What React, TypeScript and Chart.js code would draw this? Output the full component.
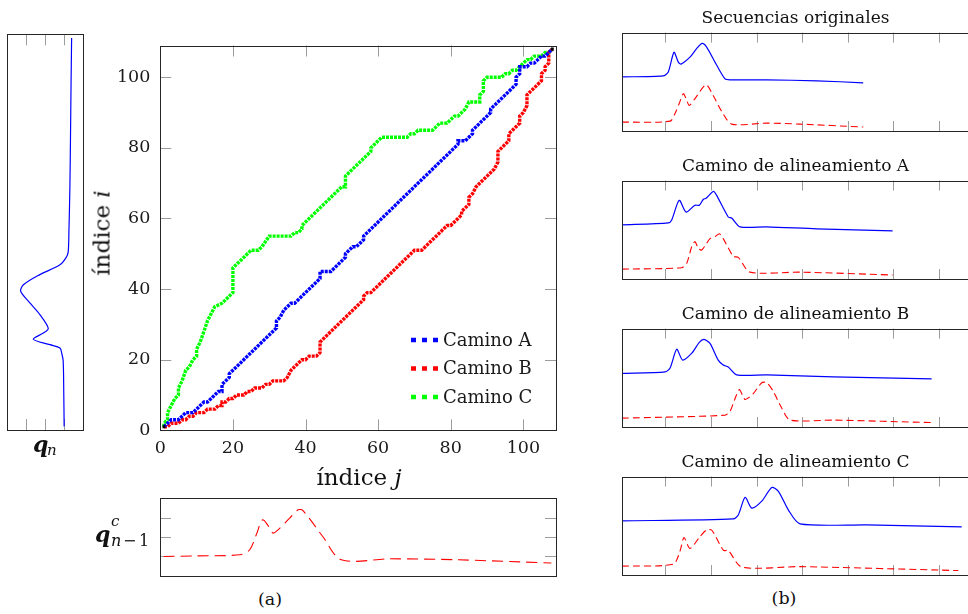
import React, { useEffect, useRef } from "react";
import { Chart, registerables } from "chart.js";
Chart.register(...registerables);

// ---------------- data ----------------
// warping paths (j = column index, i = row index), vertices of the step paths
const pathA: [number, number][] = [
  [1, 1], [2, 2], [3, 3], [5, 3], [6, 4], [7, 5], [9, 5], [10, 6], [11, 7], [12, 8], [13, 8],
  [16, 11], [17, 11], [17, 13], [18, 14], [19, 15], [19, 16], [20, 17], [31, 28], [32, 29],
  [32, 31], [33, 32], [34, 34], [35, 35], [36, 36], [37, 36], [38, 37], [44, 43], [44, 45],
  [45, 45], [47, 45], [50, 48], [51, 49], [51, 50], [52, 51], [53, 52], [54, 52], [55, 53],
  [56, 54], [56, 55], [57, 56], [82, 81], [82, 82], [84, 82], [85, 83], [86, 84], [86, 85],
  [90, 89], [91, 90], [91, 91], [97, 97], [98, 98], [98, 100], [99, 101], [99, 103],
  [101, 103], [102, 104], [103, 104], [104, 105], [105, 106], [106, 106], [107, 107], [108, 108],
];
const pathB: [number, number][] = [
  [1, 1], [2, 1], [3, 2], [5, 2], [6, 3], [7, 3], [8, 4], [9, 4], [10, 5], [12, 5], [13, 6],
  [15, 6], [16, 7], [17, 7], [17, 8], [18, 8], [19, 9], [20, 9], [21, 10], [23, 10], [24, 11],
  [25, 11], [26, 12], [28, 12], [29, 13], [30, 13], [31, 14], [34, 14], [35, 15], [36, 17],
  [37, 18], [38, 19], [39, 20], [40, 20], [41, 21], [43, 21], [44, 22], [44, 25], [45, 26],
  [56, 37], [56, 38], [57, 39], [58, 39], [59, 40], [69, 50], [70, 51], [72, 51], [73, 52],
  [79, 58], [80, 58], [82, 60], [83, 61], [83, 62], [84, 63], [85, 64], [85, 66], [86, 67],
  [87, 69], [88, 70], [90, 72], [91, 73], [92, 74], [93, 76], [93, 79], [94, 80], [95, 81],
  [96, 82], [96, 84], [97, 85], [98, 86], [99, 87], [99, 89], [100, 90], [101, 92], [101, 95],
  [102, 96], [103, 97], [104, 98], [105, 99], [105, 101], [106, 102], [106, 103], [107, 104],
  [107, 107], [108, 108],
];
const pathC: [number, number][] = [
  [1, 1], [1, 2], [2, 3], [2, 5], [3, 7], [4, 9], [5, 10], [5, 12], [6, 14], [7, 17], [8, 18],
  [9, 20], [10, 21], [10, 23], [11, 25], [12, 28], [13, 31], [14, 33], [15, 35], [17, 36],
  [18, 37], [19, 38], [20, 39], [20, 46], [21, 47], [24, 50], [25, 51], [27, 51], [28, 52],
  [30, 55], [36, 55], [37, 56], [38, 56], [39, 57], [39, 58], [40, 59], [50, 69], [51, 69],
  [51, 72], [52, 73], [53, 74], [57, 78], [58, 79], [58, 80], [60, 82], [61, 83], [68, 83],
  [69, 84], [70, 84], [71, 85], [75, 85], [77, 87], [79, 87], [81, 89], [82, 89], [84, 91],
  [85, 93], [88, 93], [88, 95], [89, 96], [89, 99], [90, 100], [94, 100], [95, 101], [96, 101],
  [97, 102], [98, 102], [99, 103], [100, 104], [101, 105], [102, 105], [103, 106], [105, 106],
  [106, 107], [107, 107], [108, 108],
];
const pathEnds: [number, number][] = [[1, 1], [108, 108]];
const pathLabels = ["Camino A", "Camino B", "Camino C"];
const mainTicks = [0, 20, 40, 60, 80, 100];

// q_n along i (i, value) and q^c_{n-1} along j (j, value)
const qn: [number, number][] = [
  [1, 1.0], [10, 1.02], [19, 1.05], [21, 1.12], [22.6, 1.22], [23.5, 1.74], [25, 2.61],
  [26.7, 2.09], [28, 1.83], [31.8, 2.27], [35, 2.79], [38.2, 3.27], [40, 3.13], [42.8, 2.27],
  [45.5, 1.22], [47.5, 0.9], [49, 0.79], [55, 0.75], [67, 0.7], [80, 0.67], [95, 0.64], [108, 0.61],
];
const qcPrev: [number, number][] = [
  [1, 1.0], [10, 1.03], [22, 1.09], [24.7, 1.35], [26.5, 2.13], [28.2, 2.91], [29.6, 2.65],
  [31.1, 2.22], [32.5, 2.39], [35.7, 3.0], [38, 3.43], [39.3, 3.4], [44.8, 2.04], [49.9, 0.83],
  [63.2, 0.88], [81.5, 0.83], [107.7, 0.66],
];
const valueTicks = [1, 2, 3];

// right-hand panels (sample index, normalised value)
const panelTitles = [
  "Secuencias originales",
  "Camino de alineamiento A",
  "Camino de alineamiento B",
  "Camino de alineamiento C",
];
const seqTicks = [20, 40, 60, 80, 100, 120, 140];
const origBlue: [number, number][] = [
  [1, 0.55], [19, 0.56], [21.3, 0.6], [23.8, 0.8], [25.7, 0.7], [26.9, 0.68], [30.8, 0.75],
  [33.8, 0.84], [36.2, 0.89], [38.2, 0.85], [42.5, 0.67], [46.2, 0.53], [48.4, 0.52],
  [64.5, 0.52], [86.4, 0.51], [106.8, 0.49],
];
const origRed: [number, number][] = [
  [1, 0.09], [22.1, 0.1], [24.3, 0.18], [26.1, 0.28], [27.9, 0.38], [29.1, 0.33], [30.5, 0.26],
  [33, 0.33], [37.9, 0.47], [41, 0.36], [44.7, 0.2], [49.1, 0.07], [64.5, 0.08], [79.1, 0.07],
  [106.8, 0.04],
];
const aBlue: [number, number][] = [
  [1, 0.55], [21.3, 0.57], [22.8, 0.6], [26.1, 0.8], [29.1, 0.68], [33, 0.75], [34.9, 0.75],
  [36.7, 0.81], [37.9, 0.82], [41.1, 0.89], [42.5, 0.85], [47.6, 0.63], [49.1, 0.62],
  [52.8, 0.53], [64.5, 0.53], [86.4, 0.51], [119.7, 0.49],
];
const aRed: [number, number][] = [
  [1, 0.1], [27.2, 0.115], [29.4, 0.16], [31.6, 0.33], [33, 0.38], [34.5, 0.31], [36, 0.295],
  [39.6, 0.41], [41.8, 0.43], [43.7, 0.46], [45.4, 0.41], [49.8, 0.23], [52, 0.22], [57.1, 0.07],
  [79.1, 0.07], [119.7, 0.04],
];
const bBlue: [number, number][] = [
  [1, 0.545], [19.9, 0.56], [22.1, 0.6], [25, 0.79], [27.6, 0.68], [31.6, 0.75], [34.9, 0.86],
  [37, 0.89], [39.6, 0.85], [43.2, 0.68], [45.4, 0.63], [47.6, 0.61], [51.3, 0.53], [64.5, 0.53],
  [93.7, 0.51], [136.8, 0.49],
];
const bRed: [number, number][] = [
  [1, 0.09], [46.2, 0.12], [48.4, 0.16], [50.6, 0.29], [52.5, 0.38], [55, 0.28], [58.6, 0.34],
  [62.3, 0.45], [64.5, 0.45], [67.4, 0.36], [71.1, 0.19], [74.7, 0.07], [93.7, 0.07],
  [136.8, 0.045],
];
const cBlue: [number, number][] = [
  [1, 0.55], [49.8, 0.57], [52, 0.61], [55, 0.79], [57.9, 0.68], [62.3, 0.75], [66.7, 0.89],
  [69.6, 0.85], [74, 0.66], [79.1, 0.52], [108.3, 0.51], [150, 0.49],
];
const cRed: [number, number][] = [
  [1, 0.09], [23.5, 0.11], [26.4, 0.24], [28.2, 0.38], [30.8, 0.27], [35.2, 0.39], [38.2, 0.46],
  [40.4, 0.455], [45.5, 0.25], [47.6, 0.25], [53.5, 0.08], [79.1, 0.085], [148.5, 0.045],
];

// ---------------- helpers ----------------
const SERIF = '"DejaVu Serif", "Liberation Serif", serif';
Chart.defaults.font.family = SERIF;
Chart.defaults.color = "#1a1a1a";

const BLUE = "#0000ff";
const RED = "#ff0000";
const GREEN = "#00ff00";
const FRAME = "#262626";
const TICK = "#9c9c9c";

const pts = (arr: [number, number][]) => arr.map(([x, y]) => ({ x, y }));
const ptsSwap = (arr: [number, number][]) => arr.map(([i, v]) => ({ x: v, y: i }));

function framePlugin(xTicks: number[], yTicks: number[], len: number) {
  return {
    id: "frameTicks",
    beforeDatasetsDraw(chart: any) {
      const { ctx, chartArea: a, scales } = chart;
      ctx.save();
      ctx.lineWidth = 1;
      ctx.strokeStyle = TICK;
      ctx.setLineDash([]);
      ctx.beginPath();
      xTicks.forEach((v) => {
        const x = Math.round(scales.x.getPixelForValue(v)) + 0.5;
        if (x < a.left + 2 || x > a.right - 2) return;
        ctx.moveTo(x, a.top);
        ctx.lineTo(x, a.top + len);
        ctx.moveTo(x, a.bottom);
        ctx.lineTo(x, a.bottom - len);
      });
      yTicks.forEach((v) => {
        const y = Math.round(scales.y.getPixelForValue(v)) + 0.5;
        if (y < a.top + 2 || y > a.bottom - 2) return;
        ctx.moveTo(a.left, y);
        ctx.lineTo(a.left + len, y);
        ctx.moveTo(a.right, y);
        ctx.lineTo(a.right - len, y);
      });
      ctx.stroke();
      ctx.restore();
    },
    afterDatasetsDraw(chart: any) {
      const { ctx, chartArea: a } = chart;
      ctx.save();
      ctx.lineWidth = 1;
      ctx.strokeStyle = FRAME;
      ctx.setLineDash([]);
      const l = Math.round(a.left) + 0.5;
      const t = Math.round(a.top) + 0.5;
      ctx.strokeRect(l, t, Math.round(a.right) - Math.round(a.left), Math.round(a.bottom) - Math.round(a.top));
      ctx.restore();
    },
  };
}

const pathLegend = {
  id: "pathLegend",
  afterDraw(chart: any) {
    const { ctx, chartArea: a } = chart;
    ctx.save();
    ctx.font = `18px ${SERIF}`;
    ctx.textBaseline = "middle";
    ctx.textAlign = "left";
    let row = 0;
    chart.data.datasets.forEach((ds: any) => {
      if (!pathLabels.includes(ds.label)) return;
      const y = a.bottom - 90.3 + row * 28.5;
      ctx.strokeStyle = ds.borderColor;
      ctx.lineWidth = 4.5;
      ctx.lineCap = "butt";
      ctx.setLineDash([5, 6]);
      ctx.beginPath();
      ctx.moveTo(a.right - 145, y);
      ctx.lineTo(a.right - 118, y);
      ctx.stroke();
      ctx.setLineDash([]);
      ctx.fillStyle = "#1a1a1a";
      ctx.fillText(ds.label, a.right - 113, y + 1);
      row++;
    });
    ctx.restore();
  },
};

function ChartBox(props: { left: number; top: number; width: number; height: number; make: () => any }) {
  const ref = useRef<HTMLCanvasElement>(null);
  useEffect(() => {
    const chart = new Chart(ref.current as HTMLCanvasElement, props.make());
    return () => chart.destroy();
  }, []);
  return (
    <canvas
      ref={ref}
      width={props.width}
      height={props.height}
      style={{ position: "absolute", left: props.left, top: props.top, width: props.width, height: props.height }}
    />
  );
}

function Txt(props: {
  x: number;
  y: number;
  size: number;
  children: React.ReactNode;
  center?: boolean;
  style?: React.CSSProperties;
}) {
  return (
    <div
      style={{
        position: "absolute",
        left: props.x,
        top: props.y - 0.846 * props.size,
        fontSize: props.size,
        lineHeight: `${props.size}px`,
        fontFamily: SERIF,
        color: "#111",
        whiteSpace: "nowrap",
        transform: props.center ? "translateX(-50%)" : undefined,
        ...props.style,
      }}
    >
      {props.children}
    </div>
  );
}

const noScale = (min: number, max: number, reverse = false) => ({
  type: "linear",
  min,
  max,
  reverse,
  display: false,
});

const baseOpts = (padding: any) => ({
  responsive: false,
  animation: false,
  events: [],
  layout: { padding },
  plugins: { legend: { display: false }, tooltip: { enabled: false } },
});

function makeMain() {
  const pathDs = (label: string, data: [number, number][], color: string) => ({
    label,
    data: pts(data),
    borderColor: color,
    backgroundColor: color,
    borderWidth: 3.4,
    borderDash: [3, 1],
    borderCapStyle: "butt",
    borderJoinStyle: "miter",
    showLine: true,
    pointRadius: 0,
    tension: 0,
  });
  const tickFont = { size: 17.5, family: SERIF };
  return {
    type: "scatter",
    data: {
      datasets: [
        { label: "", data: pts(pathEnds), pointStyle: "rect", pointRadius: 2, backgroundColor: "#000", borderWidth: 0, showLine: false },
        pathDs(pathLabels[0], pathA, BLUE),
        pathDs(pathLabels[1], pathB, RED),
        pathDs(pathLabels[2], pathC, GREEN),
      ],
    },
    options: {
      ...baseOpts({ top: 10, right: 14, left: 0, bottom: 0 }),
      scales: {
        x: {
          type: "linear",
          min: 0,
          max: 109,
          afterBuildTicks: (s: any) => {
            s.ticks = mainTicks.map((value) => ({ value }));
          },
          afterFit: (s: any) => {
            s.height = 34.7;
          },
          grid: { display: false, drawTicks: false },
          border: { display: false },
          ticks: { padding: 8, autoSkip: false, maxRotation: 0, font: tickFont, color: "#1a1a1a" },
        },
        y: {
          type: "linear",
          min: 0,
          max: 109,
          afterBuildTicks: (s: any) => {
            s.ticks = mainTicks.map((value) => ({ value }));
          },
          afterFit: (s: any) => {
            s.width = 60.3;
          },
          grid: { display: false, drawTicks: false },
          border: { display: false },
          ticks: { padding: 10, autoSkip: false, font: tickFont, color: "#1a1a1a" },
        },
      },
    },
    plugins: [framePlugin(mainTicks, mainTicks, 11), pathLegend],
  };
}

function makeLeft() {
  return {
    type: "scatter",
    data: {
      datasets: [
        { data: ptsSwap(qn), borderColor: BLUE, borderWidth: 1.2, showLine: true, pointRadius: 0, tension: 0.3 },
      ],
    },
    options: {
      ...baseOpts({ left: 7.3, right: 6.7, top: 9.3, bottom: 10 }),
      scales: { x: noScale(0, 3.97, true), y: noScale(0, 109) },
    },
    plugins: [framePlugin(valueTicks, [], 11)],
  };
}

function makeBottom() {
  return {
    type: "scatter",
    data: {
      datasets: [
        { data: pts(qcPrev), borderColor: RED, borderWidth: 1.1, borderDash: [11, 6], showLine: true, pointRadius: 0, tension: 0.3 },
      ],
    },
    options: {
      ...baseOpts({ left: 10, right: 14, top: 8.3, bottom: 9.3 }),
      scales: { x: noScale(0, 109), y: noScale(0, 4.03) },
    },
    plugins: [framePlugin([], valueTicks, 11)],
  };
}

function makePanel(title: string, blue: [number, number][], red: [number, number][]) {
  return () => ({
    type: "scatter",
    data: {
      datasets: [
        { data: pts(blue), borderColor: BLUE, borderWidth: 1.2, showLine: true, pointRadius: 0, tension: 0.25 },
        { data: pts(red), borderColor: RED, borderWidth: 1.1, borderDash: [7, 4], showLine: true, pointRadius: 0, tension: 0.25 },
      ],
    },
    options: {
      ...baseOpts({ left: 0, right: 0, top: 0, bottom: 2 }),
      scales: { x: noScale(1, 153.2), y: noScale(0, 1) },
      plugins: {
        legend: { display: false },
        tooltip: { enabled: false },
        title: {
          display: true,
          text: title,
          color: "#111",
          font: { size: 17, family: SERIF, weight: "normal" },
          padding: { top: 2.4, bottom: 3.8 },
        },
      },
    },
    plugins: [framePlugin(seqTicks, [], 10)],
  });
}

const panels: [string, [number, number][], [number, number][], number][] = [
  [panelTitles[0], origBlue, origRed, 6],
  [panelTitles[1], aBlue, aRed, 154],
  [panelTitles[2], bBlue, bRed, 302],
  [panelTitles[3], cBlue, cRed, 450],
];

export default function App() {
  const bi: React.CSSProperties = { fontWeight: "bold", fontStyle: "italic" };
  const it: React.CSSProperties = { fontStyle: "italic" };
  return (
    <div
      style={{
        position: "fixed",
        left: 0,
        top: 0,
        width: 968,
        height: 614,
        overflow: "hidden",
        background: "#fff",
      }}
    >
      <ChartBox left={0} top={25} width={90} height={415} make={makeLeft} />
      <ChartBox left={100} top={25} width={470} height={440} make={makeMain} />
      <ChartBox left={150} top={490} width={420} height={95} make={makeBottom} />
      {panels.map(([t, b, r, top]) => (
        <ChartBox key={t} left={622} top={top} width={347} height={127} make={makePanel(t, b, r)} />
      ))}

      {/* axis titles of the path chart */}
      <div
        style={{
          position: "absolute",
          left: 102,
          top: 233,
          fontSize: 23,
          lineHeight: "23px",
          fontFamily: SERIF,
          color: "#111",
          whiteSpace: "nowrap",
          transform: "translate(-50%, -50%) rotate(-90deg)",
        }}
      >
        índice <span style={it}>i</span>
      </div>
      <Txt x={359} y={485} size={23} center>
        índice <span style={it}>j</span>
      </Txt>

      {/* q_n */}
      <Txt x={33} y={452} size={22} style={bi}>q</Txt>
      <Txt x={47} y={456} size={15} style={it}>n</Txt>

      {/* q^c_{n-1} */}
      <Txt x={95} y={541.5} size={22} style={bi}>q</Txt>
      <Txt x={111} y={526.5} size={15} style={it}>c</Txt>
      <Txt x={111} y={546.5} size={16} style={it}>n</Txt>
      <Txt x={123} y={546.5} size={16}>−</Txt>
      <Txt x={139} y={546.5} size={16}>1</Txt>

      <Txt x={270} y={606} size={17.5} center>(a)</Txt>
      <Txt x={784} y={604.5} size={17.5} center>(b)</Txt>
    </div>
  );
}
